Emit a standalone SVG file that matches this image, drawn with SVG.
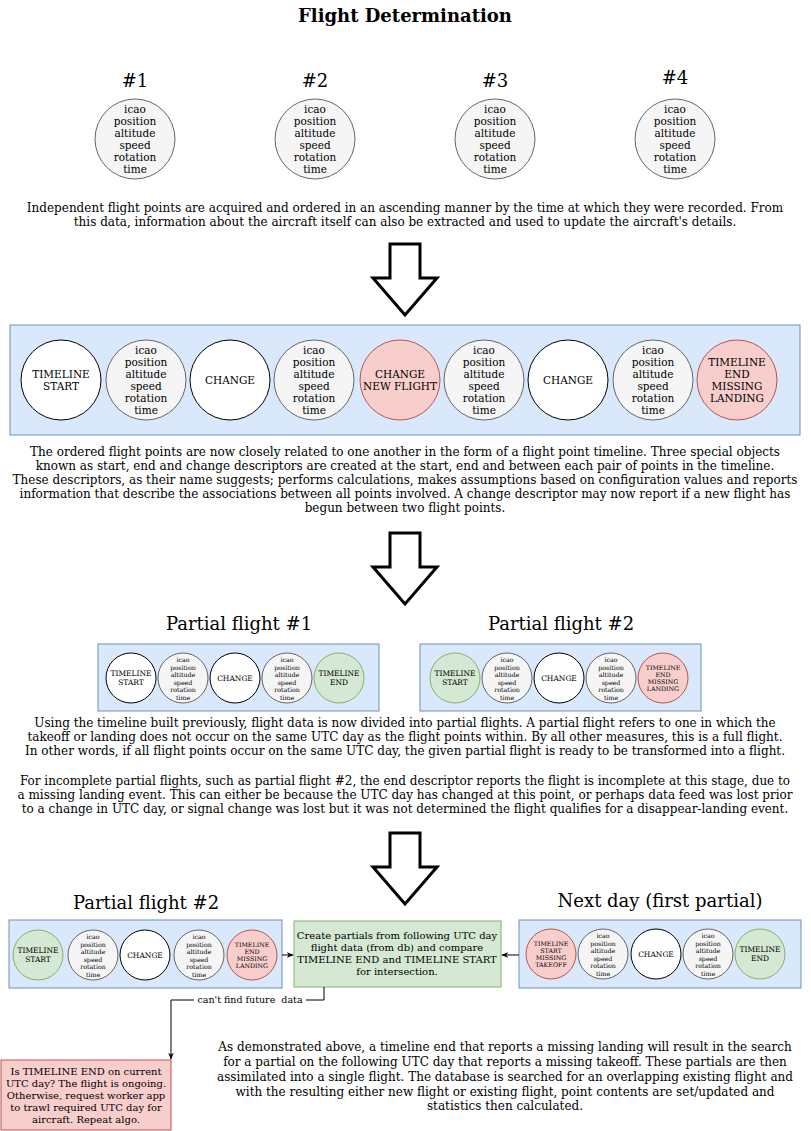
<svg xmlns="http://www.w3.org/2000/svg" width="811" height="1131" viewBox="0 0 811 1131" font-family="'DejaVu Serif','Liberation Serif',serif">
<style>
text{font-family:"DejaVu Serif","Liberation Serif",serif;text-anchor:middle;fill:#000}
.t{font-size:12px}
.h{font-size:18px}
.pt{fill:#f5f5f5;stroke:#666}
.pt-t{fill:#333;font-size:10.5px}
.wh{fill:#fff;stroke:#000}
.rd{fill:#f8cecc;stroke:#b85450}
.gr{fill:#d5e8d4;stroke:#82b366}
.bx{fill:#dae8fc;stroke:#6c8ebf}
.big{font-size:10.5px}
.sm{font-size:7.5px}
.sp{fill:#333;font-size:6.3px}
.sr{font-size:6.3px}
.blk{fill:#fff;stroke:#000;stroke-width:3}
.edge{fill:none;stroke:#000;stroke-width:1}
</style>
<defs>
<marker id="ah" viewBox="0 0 10 10" refX="9" refY="5" markerWidth="7" markerHeight="7" orient="auto"><path d="M0,1 L10,5 L0,9 L3,5 Z" fill="#000"/></marker>
<g id="pt40" font-family="'DejaVu Serif','Liberation Serif',serif" text-anchor="middle" font-size="10.5" fill="#333"><circle r="40" fill="#f5f5f5" stroke="#666"/><text y="-26">icao</text><text y="-14">position</text><text y="-2">altitude</text><text y="10">speed</text><text y="22">rotation</text><text y="34">time</text></g>
<g id="pt25" font-family="'DejaVu Serif','Liberation Serif',serif" text-anchor="middle" font-size="6.3" fill="#333"><circle r="25" fill="#f5f5f5" stroke="#666"/><text y="-16">icao</text><text y="-8.5">position</text><text y="-1">altitude</text><text y="6.5">speed</text><text y="14">rotation</text><text y="21.5">time</text></g>
</defs>
<text x="405" y="22" font-size="18" font-weight="bold">Flight Determination</text>

<g id="p1"><text class="h" x="135" y="87">#1</text><use href="#pt40" x="135" y="139"/></g>
<g id="p2"><text class="h" x="315" y="87">#2</text><use href="#pt40" x="315" y="139"/></g>
<g id="p3"><text class="h" x="495" y="87">#3</text><use href="#pt40" x="495" y="139"/></g>
<g id="p4"><text class="h" x="675" y="84">#4</text><use href="#pt40" x="675" y="139"/></g>

<g id="text1"><text class="t" x="405" y="212">Independent flight points are acquired and ordered in an ascending manner by the time at which they were recorded. From</text><text class="t" x="405" y="226">this data, information about the aircraft itself can also be extracted and used to update the aircraft's details.</text></g>

<g id="arrow1"><path class="blk" d="M390,244 H420 V278 H437 L405,315 L373,278 H390 Z"/></g>

<g id="timeline">
<rect x="10" y="325" width="790" height="110" class="bx"/>
<g id="tl1"><circle cx="61" cy="380" r="40" class="wh"/><text class="big" x="61" y="378">TIMELINE</text><text class="big" x="61" y="390">START</text></g>
<g id="tl2"><use href="#pt40" x="146" y="380"/></g>
<g id="tl3"><circle cx="230" cy="380" r="40" class="wh"/><text class="big" x="230" y="384">CHANGE</text></g>
<g id="tl4"><use href="#pt40" x="314" y="380"/></g>
<g id="tl5"><circle cx="400" cy="380" r="40" class="rd"/><text class="big" x="400" y="378">CHANGE</text><text class="big" x="400" y="390">NEW FLIGHT</text></g>
<g id="tl6"><use href="#pt40" x="484" y="380"/></g>
<g id="tl7"><circle cx="568" cy="380" r="40" class="wh"/><text class="big" x="568" y="384">CHANGE</text></g>
<g id="tl8"><use href="#pt40" x="653" y="380"/></g>
<g id="tl9"><circle cx="737" cy="380" r="40" class="rd"/><text class="big" x="737" y="366">TIMELINE</text><text class="big" x="737" y="378">END</text><text class="big" x="737" y="390">MISSING</text><text class="big" x="737" y="402">LANDING</text></g>
</g>

<g id="text2">
<text class="t" x="405" y="456">The ordered flight points are now closely related to one another in the form of a flight point timeline. Three special objects</text>
<text class="t" x="405" y="470">known as start, end and change descriptors are created at the start, end and between each pair of points in the timeline.</text>
<text class="t" x="405" y="484">These descriptors, as their name suggests; performs calculations, makes assumptions based on configuration values and reports</text>
<text class="t" x="405" y="498">information that describe the associations between all points involved. A change descriptor may now report if a new flight has</text>
<text class="t" x="405" y="512">begun between two flight points.</text>
</g>

<g id="arrow2"><path class="blk" d="M390,533 H420 V567 H437 L405,604 L373,567 H390 Z"/></g>

<g id="partial1">
<text class="h" x="239" y="630">Partial flight #1</text>
<rect x="98" y="644" width="281" height="67" class="bx"/>
<circle cx="131" cy="678" r="25" class="wh"/><text class="sm" x="131" y="676">TIMELINE</text><text class="sm" x="131" y="685">START</text>
<use href="#pt25" x="183" y="678"/>
<circle cx="235" cy="678" r="25" class="wh"/><text class="sm" x="235" y="681">CHANGE</text>
<use href="#pt25" x="287" y="678"/>
<circle cx="339" cy="678" r="25" class="gr"/><text class="sm" x="339" y="676">TIMELINE</text><text class="sm" x="339" y="685">END</text>
</g>

<g id="partial2">
<text class="h" x="561" y="630">Partial flight #2</text>
<rect x="420" y="644" width="281" height="67" class="bx"/>
<circle cx="455" cy="678" r="25" class="gr"/><text class="sm" x="455" y="676">TIMELINE</text><text class="sm" x="455" y="685">START</text>
<use href="#pt25" x="507" y="678"/>
<circle cx="559" cy="678" r="25" class="wh"/><text class="sm" x="559" y="681">CHANGE</text>
<use href="#pt25" x="611" y="678"/>
<circle cx="663" cy="678" r="25" class="rd"/><text class="sr" x="663" y="670">TIMELINE</text><text class="sr" x="663" y="677">END</text><text class="sr" x="663" y="684">MISSING</text><text class="sr" x="663" y="691">LANDING</text>
</g>

<g id="text3">
<text class="t" x="405" y="727">Using the timeline built previously, flight data is now divided into partial flights. A partial flight refers to one in which the</text>
<text class="t" x="405" y="741">takeoff or landing does not occur on the same UTC day as the flight points within. By all other measures, this is a full flight.</text>
<text class="t" x="405" y="755">In other words, if all flight points occur on the same UTC day, the given partial flight is ready to be transformed into a flight.</text>
<text class="t" x="405" y="785">For incomplete partial flights, such as partial flight #2, the end descriptor reports the flight is incomplete at this stage, due to</text>
<text class="t" x="405" y="799">a missing landing event. This can either be because the UTC day has changed at this point, or perhaps data feed was lost prior</text>
<text class="t" x="405" y="813">to a change in UTC day, or signal change was lost but it was not determined the flight qualifies for a disappear-landing event.</text>
</g>

<g id="arrow3"><path class="blk" d="M390,833 H420 V867 H437 L405,904 L373,867 H390 Z"/></g>

<g id="partial2b">
<text class="h" x="146" y="909">Partial flight #2</text>
<rect x="9" y="920" width="273" height="68" class="bx"/>
<circle cx="38" cy="955" r="25" class="gr"/><text class="sm" x="38" y="953">TIMELINE</text><text class="sm" x="38" y="962">START</text>
<use href="#pt25" x="93" y="955"/>
<circle cx="145" cy="955" r="25" class="wh"/><text class="sm" x="145" y="958">CHANGE</text>
<use href="#pt25" x="199" y="955"/>
<circle cx="252" cy="955" r="25" class="rd"/><text class="sr" x="252" y="947">TIMELINE</text><text class="sr" x="252" y="954">END</text><text class="sr" x="252" y="961">MISSING</text><text class="sr" x="252" y="968">LANDING</text>
</g>

<g id="nextday">
<text class="h" x="660" y="907">Next day (first partial)</text>
<rect x="519" y="920" width="282" height="68" class="bx"/>
<circle cx="551" cy="954" r="25" class="rd"/><text class="sr" x="551" y="946">TIMELINE</text><text class="sr" x="551" y="953">START</text><text class="sr" x="551" y="960">MISSING</text><text class="sr" x="551" y="967">TAKEOFF</text>
<use href="#pt25" x="603" y="954"/>
<circle cx="656" cy="954" r="25" class="wh"/><text class="sm" x="656" y="957">CHANGE</text>
<use href="#pt25" x="708" y="954"/>
<circle cx="760" cy="954" r="25" class="gr"/><text class="sm" x="760" y="952">TIMELINE</text><text class="sm" x="760" y="961">END</text>
</g>

<g id="compare">
<rect x="294" y="921" width="207" height="66" class="gr"/>
<text x="397" y="939" font-size="10">Create partials from following UTC day</text>
<text x="397" y="951" font-size="10">flight data (from db) and compare</text>
<text x="397" y="963" font-size="10">TIMELINE END and TIMELINE START</text>
<text x="397" y="975" font-size="10">for intersection.</text>
</g>

<g id="ongoing">
<rect x="1" y="1060" width="170" height="70" class="rd"/>
<text x="86" y="1075" font-size="10">Is TIMELINE END on current</text>
<text x="86" y="1087" font-size="10">UTC day? The flight is ongoing.</text>
<text x="86" y="1099" font-size="10">Otherwise, request worker app</text>
<text x="86" y="1111" font-size="10">to trawl required UTC day for</text>
<text x="86" y="1123" font-size="10">aircraft. Repeat algo.</text>
</g>

<g id="connectors">
<path class="edge" d="M282,955 H293" marker-end="url(#ah)"/>
<path class="edge" d="M519,955 H502" marker-end="url(#ah)"/>
<path class="edge" d="M324,987 V1000 H171 V1059" marker-end="url(#ah)"/>
<rect x="194" y="994" width="112" height="12" fill="#fff"/>
<text x="250" y="1003" font-size="9.5" style="white-space:pre">can't find future  data</text>
</g>

<g id="text4">
<text class="t" x="505" y="1051">As demonstrated above, a timeline end that reports a missing landing will result in the search</text>
<text class="t" x="505" y="1066">for a partial on the following UTC day that reports a missing takeoff. These partials are then</text>
<text class="t" x="505" y="1081">assimilated into a single flight. The database is searched for an overlapping existing flight and</text>
<text class="t" x="505" y="1096">with the resulting either new flight or existing flight, point contents are set/updated and</text>
<text class="t" x="505" y="1110">statistics then calculated.</text>
</g>
</svg>
